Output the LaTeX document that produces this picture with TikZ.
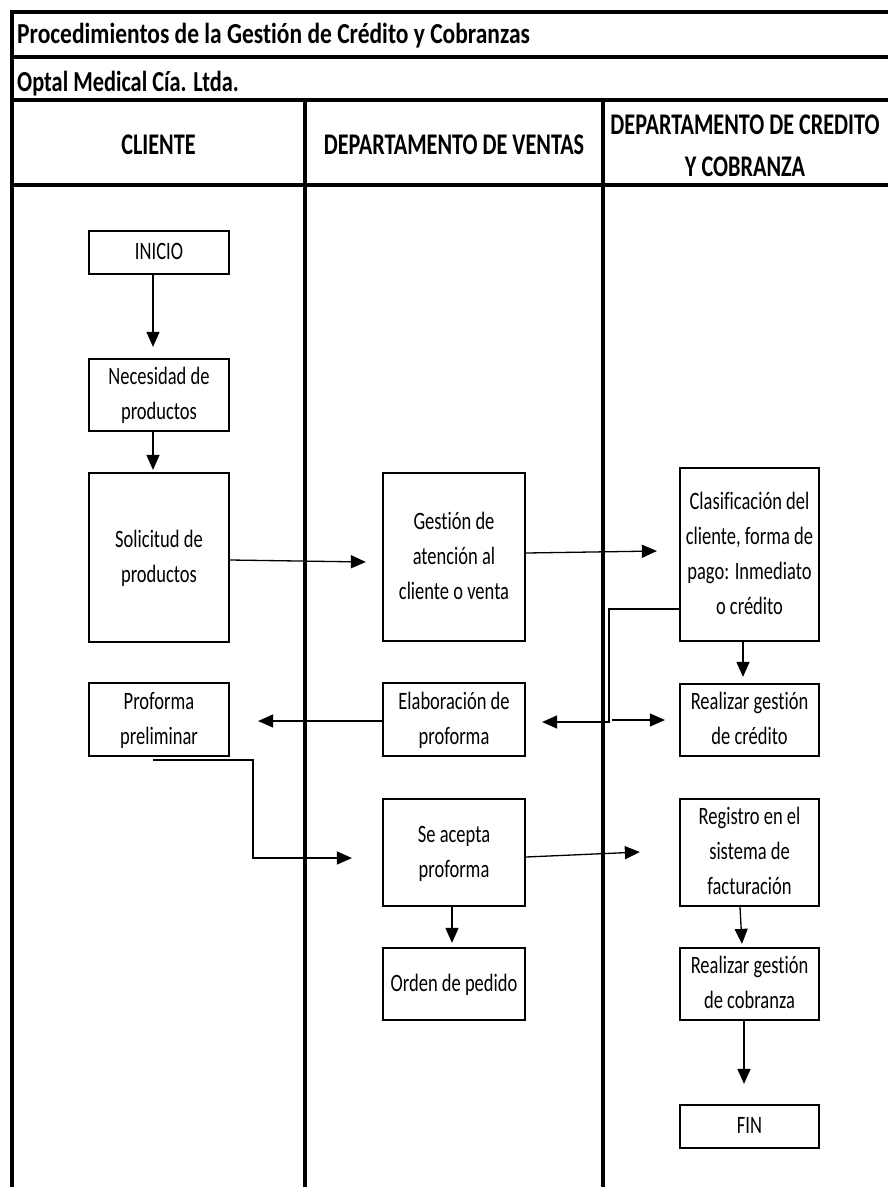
\documentclass[tikz,border=0pt]{standalone}
\usepackage{fontspec}
\setmainfont[Ligatures=NoCommon]{Carlito}
\usetikzlibrary{arrows.meta}
% narrow, tall lettering used throughout the chart
\newcommand{\sqz}[1]{\scalebox{0.74}[1]{\begin{tabular}{@{}c@{}}#1\end{tabular}}}
\tikzset{
  x=1pt, y=-1pt,
  frame/.style={line width=3.4pt, line cap=rect},
  box/.style={draw, line width=2.2pt, inner sep=0pt, rectangle,
              font=\fontsize{25}{35}\selectfont},
  arr/.style={line width=1.3pt, -{Triangle[length=15pt,width=13pt]}},
  ttl/.style={inner sep=0pt, anchor=base west, font=\bfseries\fontsize{29}{34}\selectfont},
  hdr/.style={inner sep=0pt, anchor=base, font=\bfseries\fontsize{30}{36}\selectfont}
}
\begin{document}
\begin{tikzpicture}
\useasboundingbox[fill=white] (0,0) rectangle (887,1187);

% table frame and swimlanes
\draw[frame] (12,12) -- (887,12);
\draw[frame] (12,57) -- (887,57);
\draw[frame] (12,100) -- (887,100);
\draw[frame] (12,185) -- (887,185);
\draw[frame] (12,12) -- (12,1187);
\draw[frame] (305,100) -- (305,1187);
\draw[frame] (603,100) -- (603,1187);

% title rows
\node[ttl] (title) at (17,43) {\scalebox{0.81}[1]{Procedimientos de la Gestión de Crédito y Cobranzas}};
\node[ttl] (company) at (17,91) {\scalebox{0.77}[1]{Optal Medical Cía. Ltda.}};

% lane headers
\node[hdr] (hcli) at (158.5,154) {\scalebox{0.74}[1]{CLIENTE}};
\node[hdr] (hven) at (454,154) {\scalebox{0.74}[1]{DEPARTAMENTO DE VENTAS}};
\node[hdr] (hcre1) at (745,134) {\scalebox{0.74}[1]{DEPARTAMENTO DE CREDITO}};
\node[hdr] (hcre2) at (745,176) {\scalebox{0.74}[1]{Y COBRANZA}};

% CLIENTE lane
\node[box, minimum width=140pt, minimum height=43pt] (inicio) at (159,252.5) {\sqz{INICIO}};
\node[box, minimum width=140pt, minimum height=72pt] (nec) at (159,395) {\sqz{Necesidad de\\productos}};
\node[box, minimum width=140pt, minimum height=169pt] (sol) at (159,557.5) {\sqz{Solicitud de\\productos}};
\node[box, minimum width=140pt, minimum height=73pt] (prof) at (159,719.5) {\sqz{Proforma\\preliminar}};

% VENTAS lane
\node[box, minimum width=142pt, minimum height=168pt] (gest) at (454,557) {\sqz{Gestión de\\atención al\\cliente o venta}};
\node[box, minimum width=142pt, minimum height=73pt] (elab) at (454,719.5) {\sqz{Elaboración de\\proforma}};
\node[box, minimum width=142pt, minimum height=107pt] (acep) at (454,852.5) {\sqz{Se acepta\\proforma}};
\node[box, minimum width=142pt, minimum height=72pt] (orden) at (454,984) {\sqz{Orden de pedido}};

% CREDITO Y COBRANZA lane
\node[box, minimum width=139pt, minimum height=173pt] (clas) at (749.5,554.5) {\sqz{Clasificación del\\cliente, forma de\\pago: Inmediato\\o crédito}};
\node[box, minimum width=139pt, minimum height=72pt] (rcred) at (749.5,720) {\sqz{Realizar gestión\\de crédito}};
\node[box, minimum width=139pt, minimum height=107pt] (reg) at (749.5,852.5) {\sqz{Registro en el\\sistema de\\facturación}};
\node[box, minimum width=139pt, minimum height=72pt] (cob) at (749.5,984) {\sqz{Realizar gestión\\de cobranza}};
\node[box, minimum width=139pt, minimum height=43pt] (fin) at (749.5,1126.5) {\sqz{FIN}};

% bend points
\coordinate (jn) at (609,722);
\coordinate (jr) at (612,720);
\coordinate (pb) at (253,858);

% flow
\draw[arr] ([xshift=-6pt]inicio.south) -- ([xshift=-6pt,yshift=11pt]nec.north);
\draw[arr] ([xshift=-6pt]nec.south) -- ([xshift=-6pt,yshift=2pt]sol.north);
\draw[arr] ([yshift=-2.5pt]sol.east) -- ([xshift=-16pt,yshift=-5pt]gest.west);
\draw[arr] ([yshift=4pt]gest.east) -- ([xshift=-22pt,yshift=3.5pt]clas.west);
\draw[arr] ([xshift=-6.5pt]clas.south) -- ([xshift=-6.5pt,yshift=6pt]rcred.north);
\draw[arr] ([yshift=-54.5pt]clas.west) -| (jn) -- ([xshift=16pt,yshift=-2.5pt]elab.east);
\draw[arr] (jr) -- ([xshift=-14pt]rcred.west);
\draw[arr] ([yshift=-1.5pt]elab.west) -- ([xshift=28pt,yshift=-1.5pt]prof.east);
\draw[arr] ([xshift=-6pt,yshift=-3pt]prof.south) -| (pb) -- ([xshift=-30pt,yshift=-5.5pt]acep.west);
\draw[arr] ([yshift=-4.5pt]acep.east) -- ([xshift=-39pt,yshift=0.5pt]reg.west);
\draw[arr] ([xshift=-2pt]acep.south) -- ([xshift=-2pt,yshift=4pt]orden.north);
\draw[arr] ([xshift=-9.5pt]reg.south) -- ([xshift=-7.5pt,yshift=3pt]cob.north);
\draw[arr] ([xshift=-5.5pt]cob.south) -- ([xshift=-5.5pt,yshift=20pt]fin.north);
\end{tikzpicture}
\end{document}
